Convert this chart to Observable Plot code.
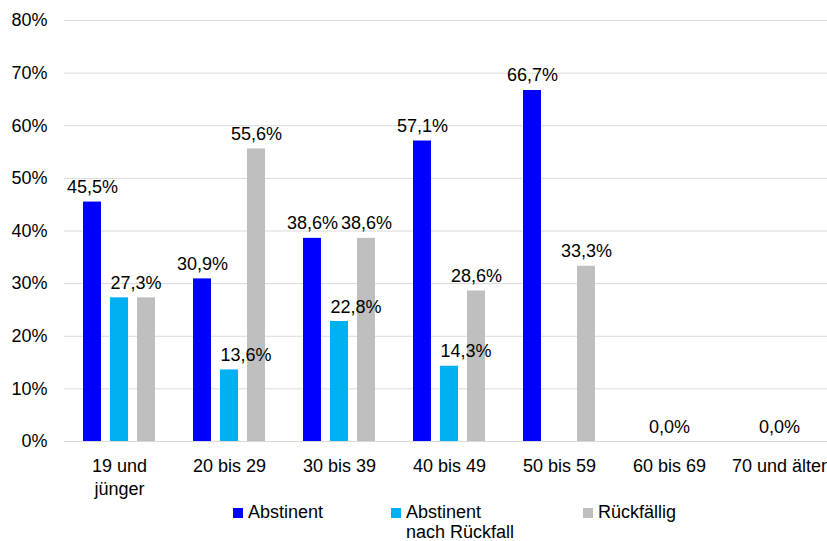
<!DOCTYPE html>
<html>
<head>
<meta charset="utf-8">
<script src="https://cdn.jsdelivr.net/npm/d3@7"></script>
<script src="https://cdn.jsdelivr.net/npm/@observablehq/plot@0.6"></script>
<style>
  body { margin: 0; background: #fff; font-family: "Liberation Sans", Arial, sans-serif; color: #000; }
  #wrap { position: relative; width: 827px; height: 541px; overflow: hidden; }
  #legend { position: relative; width: 827px; height: 41px; font-size: 18px; line-height: 20px; }
  .sw { position: absolute; top: 8px; width: 10px; height: 10px; }
  .lt { position: absolute; top: 2px; white-space: nowrap; }
</style>
</head>
<body>
<div id="wrap">
  <div id="chart"></div>
  <div id="legend"></div>
</div>
<script>
// Altersgruppen (Kategorien) und ihre Achsenbeschriftungen
const groups = ["19 und jünger", "20 bis 29", "30 bis 39", "40 bis 49", "50 bis 59", "60 bis 69", "70 und älter"];
const groupTickLabels = ["19 und\njünger", "20 bis 29", "30 bis 39", "40 bis 49", "50 bis 59", "60 bis 69", "70 und älter"];

// Serien (Anteile in %); null = kein Wert
const seriesNames = ["Abstinent", "Abstinent nach Rückfall", "Rückfällig"];
const legendLabels = ["Abstinent", "Abstinent\nnach Rückfall", "Rückfällig"];
const seriesColors = ["#0000ff", "#00b0f0", "#bfbfbf"];
const abstinent = [45.5, 30.9, 38.6, 57.1, 66.7, null, null];
const abstinentNachRueckfall = [27.3, 13.6, 22.8, 14.3, null, 0, 0];
const rueckfaellig = [27.3, 55.6, 38.6, 28.6, 33.3, null, null];

// y-Achse
const yTicks = [0, 10, 20, 30, 40, 50, 60, 70, 80];

// Tabelle im Long-Format
const seriesValues = [abstinent, abstinentNachRueckfall, rueckfaellig];
const rows = [];
groups.forEach((g, i) => {
  seriesNames.forEach((s, j) => {
    const v = seriesValues[j][i];
    if (v != null) rows.push({group: g, series: s, value: v});
  });
});

const de = d3.formatLocale({decimal: ",", thousands: ".", grouping: [3], currency: ["", " €"]});
const fmt1 = de.format(".1f");
const pct = v => fmt1(v) + "%";

// Beschriftungen je Serie
const labA = rows.filter(d => d.series === seriesNames[0]);
const labB = rows.filter(d => d.series === seriesNames[1]);
// eine Rückfällig-Beschriftung, die denselben Wert wie "nach Rückfall" der Gruppe hat, entfällt
const labC = rows.filter(d => d.series === seriesNames[2] &&
  !labB.some(b => b.group === d.group && b.value === d.value));

const chart = Plot.plot({
  width: 827,
  height: 500,
  marginTop: 20,
  marginBottom: 59,
  marginLeft: 64,
  marginRight: -7,
  style: {fontFamily: "'Liberation Sans', Arial, sans-serif", fontSize: "18px", color: "#000", background: "#fff"},
  fx: {domain: groups, padding: 0, round: false, label: null},
  x: {domain: seriesNames, paddingInner: 1 / 3, paddingOuter: 0.704, round: false, axis: null},
  y: {domain: [0, 80], label: null},
  color: {domain: seriesNames, range: seriesColors},
  marks: [
    Plot.gridY({ticks: yTicks, stroke: "#d9d9d9", strokeOpacity: 1, strokeWidth: 1}),
    Plot.axisY({ticks: yTicks, tickSize: 0, tickPadding: 17, tickFormat: d => d + "%", label: null, fill: "#000"}),
    Plot.axisFx({anchor: "bottom", tickSize: 0, tickPadding: 15, label: null, lineHeight: 1.25, fill: "#000",
      tickFormat: g => groupTickLabels[groups.indexOf(g)]}),
    Plot.barY(rows, {fx: "group", x: "series", y: "value", fill: "series"}),
    Plot.text(labA, {fx: "group", x: "series", y: "value", text: d => pct(d.value),
      dy: -9, lineAnchor: "bottom", fill: "#000"}),
    Plot.text(labB.filter(d => d.value > 0), {fx: "group", x: "series", y: "value", text: d => pct(d.value),
      dy: -9, dx: -9, textAnchor: "start", lineAnchor: "bottom", fill: "#000"}),
    Plot.text(labB.filter(d => d.value === 0), {fx: "group", x: "series", y: "value", text: d => pct(d.value),
      dy: -9, lineAnchor: "bottom", fill: "#000"}),
    Plot.text(labC, {fx: "group", x: "series", y: "value", text: d => pct(d.value),
      dy: -9, lineAnchor: "bottom", fill: "#000"})
  ]
});
document.getElementById("chart").appendChild(chart);

// Legende unter dem Diagramm
const legend = document.getElementById("legend");
const legendX = [233, 391, 583];
seriesNames.forEach((s, i) => {
  const sw = document.createElement("div");
  sw.className = "sw";
  sw.style.left = legendX[i] + "px";
  sw.style.background = seriesColors[i];
  legend.appendChild(sw);
  const t = document.createElement("div");
  t.className = "lt";
  t.style.left = (legendX[i] + 15) + "px";
  t.innerHTML = legendLabels[i].split("\n").join("<br>");
  legend.appendChild(t);
});
</script>
</body>
</html>
